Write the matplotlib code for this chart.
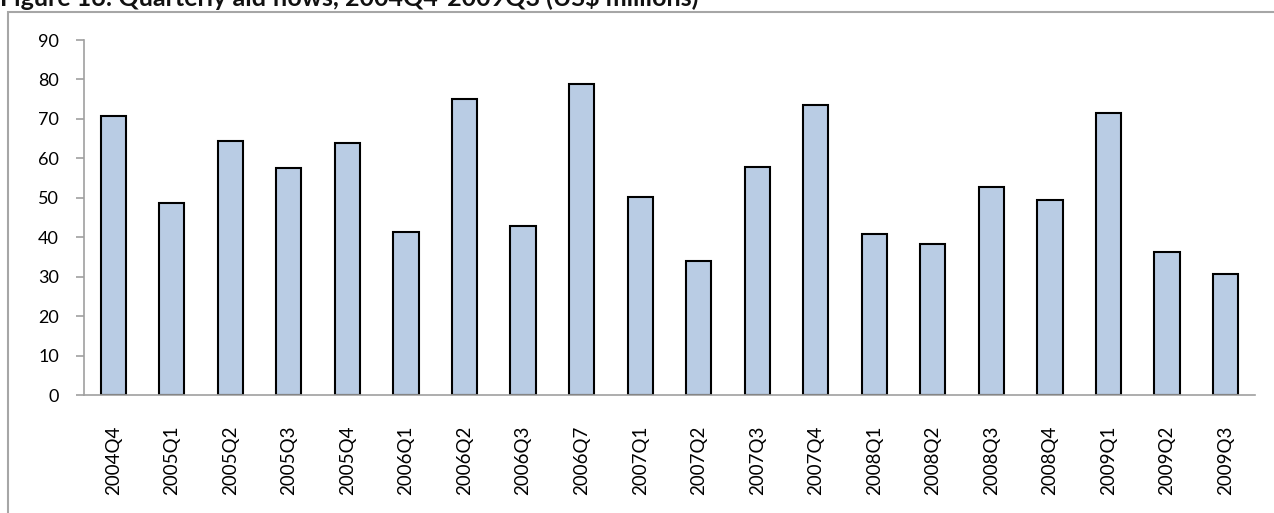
import matplotlib
matplotlib.use("Agg")
import matplotlib.pyplot as plt
from matplotlib.patches import Rectangle

quarters = ["2004Q4", "2005Q1", "2005Q2", "2005Q3", "2005Q4", "2006Q1", "2006Q2",
            "2006Q3", "2006Q7", "2007Q1", "2007Q2", "2007Q3", "2007Q4", "2008Q1",
            "2008Q2", "2008Q3", "2008Q4", "2009Q1", "2009Q2", "2009Q3"]
aid_flows = [70.8, 48.7, 64.4, 57.6, 63.9, 41.4, 75.1, 43.0, 78.8, 50.2,
             34.0, 57.9, 73.6, 40.8, 38.3, 52.7, 49.5, 71.5, 36.2, 30.7]
y_ticks = [0, 10, 20, 30, 40, 50, 60, 70, 80, 90]

title = "Figure 16: Quarterly aid flows, 2004Q4-2009Q3 (US$ millions)"

plt.rcParams["font.family"] = ["Lato", "DejaVu Sans"]

fig = plt.figure(figsize=(12.74, 5.13), dpi=100)
ax = fig.add_axes([0.0659, 0.2294, 0.9191, 0.6926])

x = range(len(quarters))
ax.bar(x, aid_flows, width=0.43, color="#b9cce4", edgecolor="black", linewidth=1.5)

ax.set_xlim(-0.5, len(quarters) - 0.5)
ax.set_ylim(0, 90)
ax.set_yticks(y_ticks)
ax.set_yticklabels([str(v) for v in y_ticks], fontsize=13)
ax.set_xticks(list(x))
ax.set_xticklabels(quarters, rotation=90, fontsize=13.5)

for side in ("top", "right"):
    ax.spines[side].set_visible(False)
for side in ("left", "bottom"):
    ax.spines[side].set_color("#a0a0a0")
    ax.spines[side].set_linewidth(1.2)
ax.tick_params(axis="y", direction="out", length=6, width=1.2, color="#a0a0a0", pad=12)
ax.tick_params(axis="x", length=0, pad=22)

# Chart frame (continues past the right and bottom edges)
fig.patches.append(Rectangle((8 / 1274, -0.1), 1.2, 1.1 - 12 / 513, transform=fig.transFigure,
                             fill=False, edgecolor="#a6a6a6", linewidth=1.5))

fig.text(0.0, 1 - 6 / 513, title, fontsize=18, fontweight="bold", ha="left",
         va="baseline", color="#111111")

fig.savefig("out.png", dpi=100)
